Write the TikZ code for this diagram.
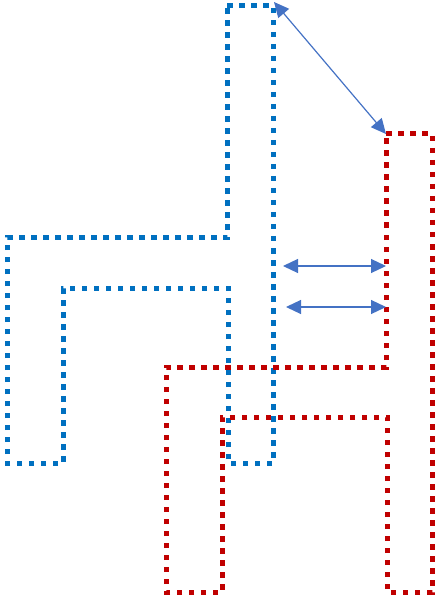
\documentclass[tikz,border=0pt]{standalone}
\usetikzlibrary{arrows.meta}
\definecolor{bluedot}{HTML}{0070C0}
\definecolor{reddot}{HTML}{C00000}
\definecolor{arrowblue}{HTML}{4472C4}
\tikzset{
  dotline/.style={line width=5pt, dash pattern=on 5.5pt off 6.5pt, line cap=butt, line join=miter},
  dbl/.style={arrowblue, line width=1.2pt, {Triangle[length=15pt,width=14pt]}-{Triangle[length=15pt,width=14pt]}}
}
\begin{document}
\begin{tikzpicture}[x=1pt,y=-1pt]
\useasboundingbox (0,0) rectangle (436,601);
% blue shape
\draw[dotline, bluedot] (227,6) -- (273,6) -- (273,463) -- (228,463) -- (228,288) -- (63,288) -- (63,463) -- (7,463) -- (7,238) -- (227,238) -- cycle;
% red shape
\draw[dotline, reddot] (386,134) -- (432,134) -- (432,592) -- (387,592) -- (387,417) -- (222,417) -- (222,592) -- (166,592) -- (166,367) -- (386,367) -- cycle;
% arrows
\coordinate (a1) at (274,2);
\coordinate (b1) at (386,134);
\coordinate (a2) at (283,266);
\coordinate (b2) at (386,266);
\coordinate (a3) at (286,307);
\coordinate (b3) at (386,307);
\draw[dbl] (a1) -- (b1);
\draw[dbl] (a2) -- (b2);
\draw[dbl] (a3) -- (b3);
\end{tikzpicture}
\end{document}
